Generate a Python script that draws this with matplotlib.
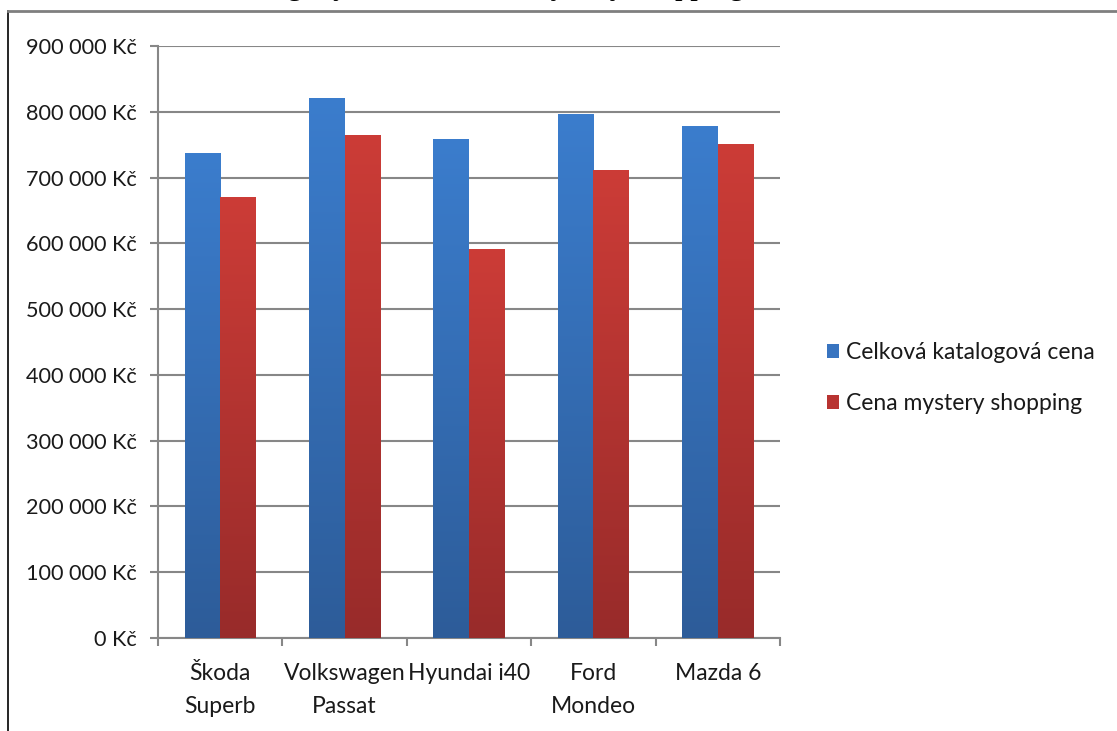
import matplotlib
matplotlib.use("Agg")
import matplotlib.pyplot as plt
import numpy as np
from matplotlib.colors import LinearSegmentedColormap
from matplotlib.lines import Line2D
from matplotlib.patches import Patch

# ---- data ----
categories = ["Škoda\nSuperb", "Volkswagen\nPassat", "Hyundai i40", "Ford\nMondeo", "Mazda 6"]
katalog = [737000, 821000, 759000, 796000, 778000]
mystery = [670000, 765000, 591000, 712000, 751000]
series_names = ["Celková katalogová cena", "Cena mystery shopping"]
yticks = [0, 100000, 200000, 300000, 400000, 500000, 600000, 700000, 800000, 900000]
title_text = "Graf 3: Srovnání katalogových cen a cen z mystery shopping"

plt.rcParams['font.family'] = ['Lato', 'DejaVu Sans']

W, H = 1117, 731
fig = plt.figure(figsize=(W / 100, H / 100), dpi=100)
ax = fig.add_axes([158 / W, 1 - 638 / H, (780 - 158) / W, (638 - 46) / H])

grey = "#878787"
txt = "#1a1a1a"
x = np.arange(len(categories))
bw = 0.286

blue_cmap = LinearSegmentedColormap.from_list("b", ["#2D5C99", "#3B7DCD"])
red_cmap = LinearSegmentedColormap.from_list("r", ["#982B2A", "#CC3C37"])

grad = np.linspace(0, 1, 256).reshape(-1, 1)

def gradient_bars(bars, cmap):
    for b in bars:
        x0, y0 = b.get_x(), b.get_y()
        w, h = b.get_width(), b.get_height()
        im = ax.imshow(grad, cmap=cmap, aspect='auto', origin='lower',
                       extent=[x0, x0 + w, y0, y0 + h], zorder=3,
                       interpolation='bilinear')
        im.set_clip_path(b)

b1 = ax.bar(x - bw / 2, katalog, bw, color="#3570B8", zorder=2, linewidth=0)
b2 = ax.bar(x + bw / 2, mystery, bw, color="#B83331", zorder=2, linewidth=0)
gradient_bars(b1, blue_cmap)
gradient_bars(b2, red_cmap)

ax.set_xlim(-0.5, len(categories) - 0.5)
ax.set_ylim(0, 900000)
ax.set_yticks(yticks)
ax.set_yticklabels([("{:,}".format(v).replace(",", " ") + " Kč") for v in yticks])
ax.yaxis.grid(True, color=grey, linewidth=1.5, zorder=0)
ax.set_axisbelow(True)

ax.set_xticks(np.arange(len(categories) + 1) - 0.5)
ax.set_xticklabels([])
ax.set_xticks(x, minor=True)
ax.set_xticklabels(categories, minor=True, fontsize=16.5, color=txt,
                   linespacing=1.7, va='top')
ax.tick_params(axis='x', which='minor', length=0, pad=18)
ax.tick_params(axis='x', which='major', length=6, width=1.5, color=grey, direction='out')
ax.tick_params(axis='y', length=6, width=1.5, color=grey, labelsize=15.6,
               labelcolor=txt, pad=9.5)

for s in ["top", "right"]:
    ax.spines[s].set_visible(False)
for s in ["left", "bottom"]:
    ax.spines[s].set_color(grey)
    ax.spines[s].set_linewidth(1.5)

handles = [Patch(facecolor="#3874C0", edgecolor="none"),
           Patch(facecolor="#B83331", edgecolor="none")]
fig.legend(handles, series_names, loc='center left',
           bbox_to_anchor=(822 / W, 1 - 378 / H), frameon=False,
           fontsize=16.5, handlelength=0.55, handleheight=0.55,
           handletextpad=0.3, labelspacing=1.32, labelcolor=txt,
           borderpad=0.2, borderaxespad=0)

# frame lines
fig.add_artist(Line2D([8 / W, 8 / W], [0, 1 - 11 / H], color="black", linewidth=1.2,
                      transform=fig.transFigure))
fig.add_artist(Line2D([8 / W, 1], [1 - 11 / H, 1 - 11 / H], color="#7f7f7f", linewidth=2,
                      transform=fig.transFigure))

# caption, clipped by the top edge as in the reference
fig.text(0.0, 1 + 6 / H, title_text, family=['Liberation Serif'], fontsize=22,
         va='baseline', ha='left', color="black")

fig.savefig("out.png", dpi=100)
